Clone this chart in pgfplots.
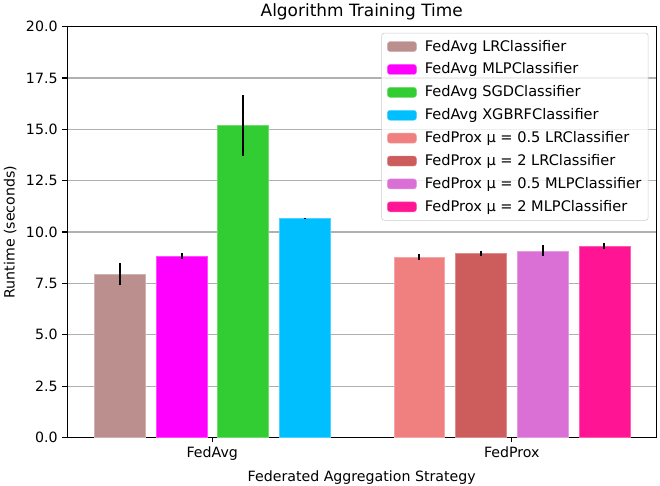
\documentclass[border=0pt]{standalone}
\usepackage{pgfplots}
\pgfplotsset{compat=1.18}
\usepackage{fontspec}
\setmainfont{DejaVu Sans}
\definecolor{c1}{RGB}{188,143,143}
\definecolor{c2}{RGB}{255,0,255}
\definecolor{c3}{RGB}{50,205,50}
\definecolor{c4}{RGB}{0,191,255}
\definecolor{c5}{RGB}{240,128,128}
\definecolor{c6}{RGB}{205,92,92}
\definecolor{c7}{RGB}{218,112,214}
\definecolor{c8}{RGB}{255,20,147}
\pgfplotsset{mybar/.style={ybar, bar width=0.17, bar shift=0pt, fill=#1, draw=#1!70!white, line width=0.3pt,
  error bars/.cd, y dir=both, y explicit, error mark=none,
  error bar style={line width=1.3pt, black},
  /pgfplots/legend image code/.code={\fill[fill=#1, fill opacity=1] (0pt,-3.6pt) rectangle (21pt,3.6pt); \path (25.8pt,0pt);}}}
\begin{document}
\begin{tikzpicture}
\begin{axis}[
  scale only axis, width=423.9pt, height=295.7pt,
  xmin=-0.484, xmax=1.482, ymin=0, ymax=20,
  xtick={0,1}, xticklabels={FedAvg,FedProx},
  ytick={0,2.5,...,20},
  ytick pos=left, xtick pos=bottom,
  yticklabel style={/pgf/number format/fixed, /pgf/number format/fixed zerofill, /pgf/number format/precision=1},
  /pgf/number format/assume math mode=true,
  tick label style={font=\fontsize{10.2}{12}\selectfont},
  tick align=outside, major tick length=3.5pt, tick style={black, line width=0.8pt},
  axis line style={line width=0.8pt},
  ymajorgrids, grid style={color=black!31, line width=0.8pt},
  title={Algorithm Training Time},
  every axis title/.style={at={(0.5,1)}, anchor=south, yshift=1.4pt, font=\fontsize{12.2}{14}\selectfont},
  xlabel={Federated Aggregation Strategy},
  ylabel={Runtime (seconds)},
  label style={font=\fontsize{10.2}{12}\selectfont},
  legend style={at={(1,1)}, anchor=north east, xshift=-5.5pt, yshift=-4.4pt,
    draw=black!20, rounded corners=2pt, fill=white, fill opacity=0.8, text opacity=1,
    font=\fontsize{10.5}{12}\selectfont, row sep=5pt, inner xsep=4pt, inner ysep=4pt,
    nodes={inner sep=1pt}},
  legend cell align=left,
]
\addplot[mybar=c1] coordinates {(-0.309,7.95) +- (0,0.55)};
\addlegendentry{FedAvg LRClassifier}
\addplot[mybar=c2] coordinates {(-0.102,8.83) +- (0,0.13)};
\addlegendentry{FedAvg MLPClassifier}
\addplot[mybar=c3] coordinates {(0.102,15.18) +- (0,1.5)};
\addlegendentry{FedAvg SGDClassifier}
\addplot[mybar=c4] coordinates {(0.309,10.67) +- (0,0.03)};
\addlegendentry{FedAvg XGBRFClassifier}
\addplot[mybar=c5] coordinates {(0.691,8.78) +- (0,0.16)};
\addlegendentry{FedProx μ = 0.5 LRClassifier}
\addplot[mybar=c6] coordinates {(0.897,8.96) +- (0,0.12)};
\addlegendentry{FedProx μ = 2 LRClassifier}
\addplot[mybar=c7] coordinates {(1.103,9.09) +- (0,0.27)};
\addlegendentry{FedProx μ = 0.5 MLPClassifier}
\addplot[mybar=c8] coordinates {(1.309,9.30) +- (0,0.15)};
\addlegendentry{FedProx μ = 2 MLPClassifier}
\end{axis}
\pgfresetboundingbox
\path[use as bounding box] (-48.46pt,-34.3pt) rectangle (426.7pt,314.9pt);
\end{tikzpicture}
\end{document}
